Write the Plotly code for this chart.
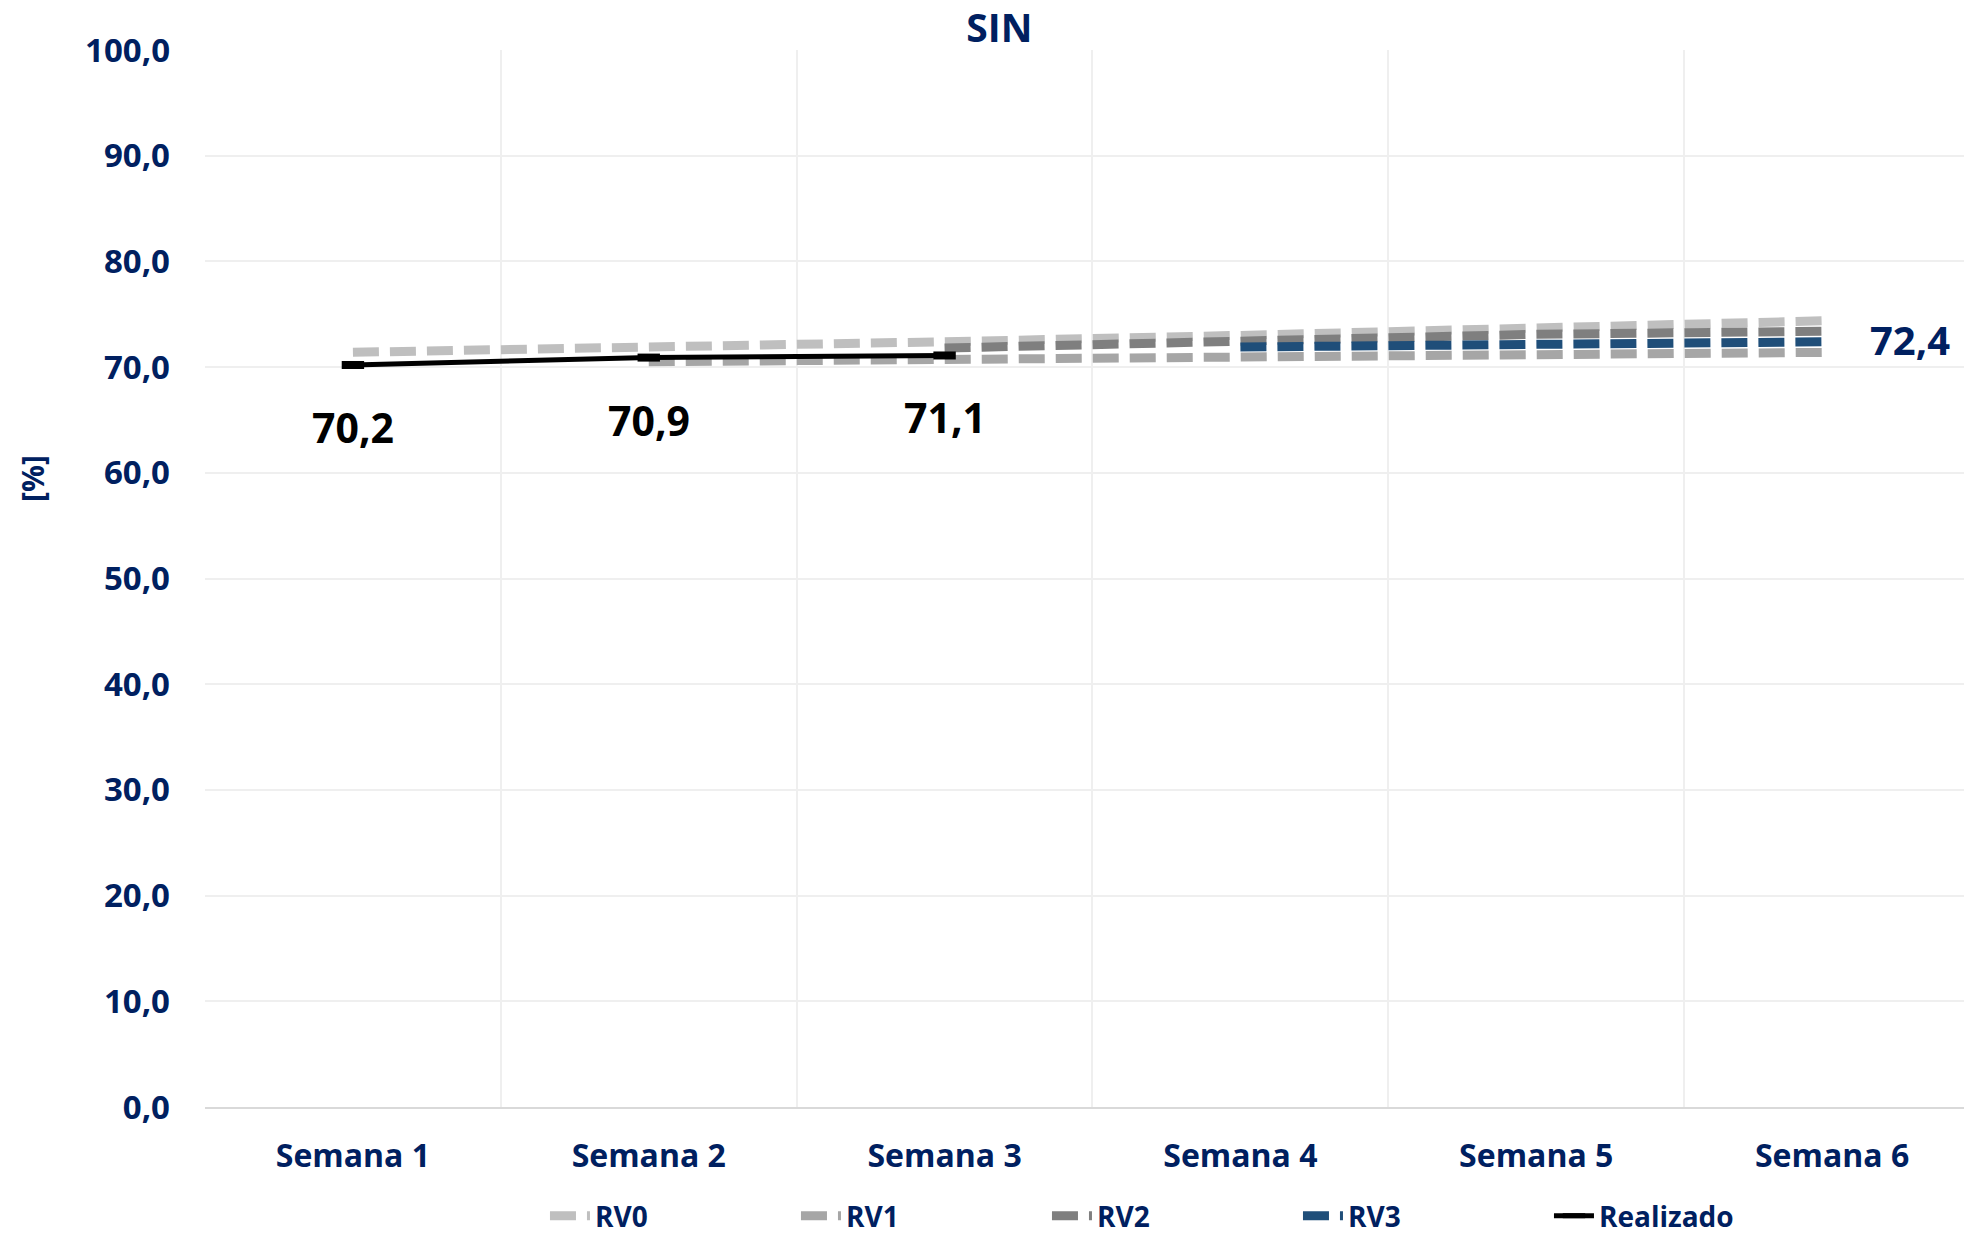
import plotly.graph_objects as go

semanas = ["Semana 1", "Semana 2", "Semana 3", "Semana 4", "Semana 5", "Semana 6"]
x_idx = [0, 1, 2, 3, 4, 5]

rv0 = [71.4, 71.8, 72.4, 73.0, 73.7, 74.4]
rv1 = [None, 70.5, 70.7, 71.0, 71.2, 71.4]
rv2 = [None, None, 71.8, 72.5, 73.1, 73.4]
rv3 = [None, None, None, 71.9, 72.1, 72.4]
realizado = [70.2, 70.9, 71.1, None, None, None]

y_ticks = [0, 10, 20, 30, 40, 50, 60, 70, 80, 90, 100]
y_ticktext = [f"{v:.1f}".replace(".", ",") for v in y_ticks]

NAVY = "#002060"
FONT = "Open Sans"
DASH = "26px,11px"

fig = go.Figure()

series = [
    ("RV0", rv0, "#BFBFBF"),
    ("RV1", rv1, "#A6A6A6"),
    ("RV2", rv2, "#7F7F7F"),
    ("RV3", rv3, "#1F4E79"),
]
for name, vals, col in series:
    fig.add_trace(go.Scatter(
        x=x_idx, y=vals, name=name, mode="lines",
        line=dict(color=col, width=9, dash=DASH),
        connectgaps=False,
    ))

fig.add_trace(go.Scatter(
    x=x_idx, y=realizado, name="Realizado", mode="lines+markers",
    line=dict(color="black", width=5),
    marker=dict(symbol="line-ew", size=16, line=dict(color="black", width=8)),
))

# data labels for Realizado (below points)
for xi, v in zip(x_idx, realizado):
    if v is None:
        continue
    fig.add_annotation(
        x=xi, y=v, xref="x", yref="y",
        text=f"{v:.1f}".replace(".", ","),
        showarrow=False, yshift=-62,
        font=dict(family=FONT, size=41, color="black", weight="bold"),
    )

# last label for RV3
last_i = max(i for i, v in enumerate(rv3) if v is not None)
fig.add_annotation(
    x=x_idx[last_i], y=rv3[last_i], xref="x", yref="y",
    text=f"{rv3[last_i]:.1f}".replace(".", ","),
    showarrow=False, xanchor="left", xshift=36, yshift=2,
    font=dict(family=FONT, size=40, color=NAVY, weight="bold"),
)

# y-axis title
fig.add_annotation(
    x=-0.098, y=0.595, xref="paper", yref="paper",
    text="[%]", textangle=-90, showarrow=False,
    xanchor="center", yanchor="middle",
    font=dict(family=FONT, size=30, color=NAVY, weight="bold"),
)

fig.update_layout(
    width=1964, height=1233,
    margin=dict(l=197, r=0, t=42, b=134),
    paper_bgcolor="white", plot_bgcolor="white",
    font=dict(family=FONT, color=NAVY),
    title=dict(
        text="SIN", x=0.5048, xref="container", xanchor="center",
        y=1 - 20 / 1233, yref="container", yanchor="middle",
        font=dict(family=FONT, size=39, color=NAVY, weight="bold"),
    ),
    showlegend=True,
    legend=dict(
        orientation="h", x=0.1924, xanchor="left",
        y=-0.008, yref="container", yanchor="bottom",
        entrywidth=196, entrywidthmode="pixels",
        font=dict(family=FONT, size=28, color=NAVY, weight="bold"),
        itemwidth=40,
    ),
)

fig.update_xaxes(
    range=[-0.5, 5.473],
    tickmode="array", tickvals=x_idx, ticktext=semanas,
    showgrid=False, zeroline=False,
    showline=True, linecolor="#D9D9D9", linewidth=2,
    ticks="", ticklabelstandoff=20,
    tickfont=dict(family=FONT, size=32, color=NAVY, weight="bold"),
    minor=dict(tickmode="array", tickvals=[-0.5, 0.5, 1.5, 2.5, 3.5, 4.5, 5.5],
               showgrid=True, gridcolor="#EFEFEF", gridwidth=2, ticks=""),
)

fig.update_yaxes(
    range=[0, 100],
    tickmode="array", tickvals=y_ticks, ticktext=y_ticktext,
    showgrid=True, gridcolor="#EFEFEF", gridwidth=2,
    zeroline=False, showline=False, ticks="",
    ticklabelstandoff=34,
    tickfont=dict(family=FONT, size=33, color=NAVY, weight="bold"),
)

fig.write_html("out.html")
